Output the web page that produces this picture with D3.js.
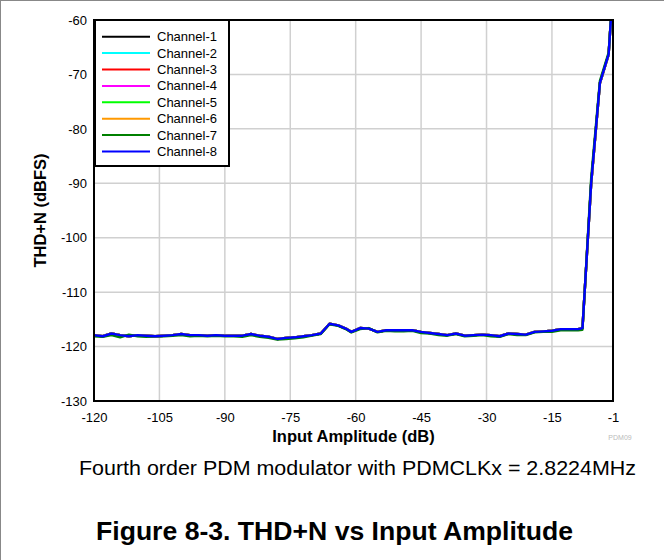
<!DOCTYPE html>
<html>
<head>
<meta charset="utf-8">
<script src="https://cdn.jsdelivr.net/npm/d3@7"></script>
<style>
html,body{margin:0;padding:0;background:#fff;}
svg{display:block;font-family:"Liberation Sans",Arial,Helvetica,sans-serif;}
</style>
</head>
<body>
<svg id="chart" width="664" height="560"></svg>
<script>
// ---- data ----
const channels = ["Channel-1","Channel-2","Channel-3","Channel-4","Channel-5","Channel-6","Channel-7","Channel-8"];
const channelColors = ["#000000","#00ffff","#ff0000","#ff00ff","#00ff00","#ff9900","#008000","#0000ff"];
const inputAmp = [-120,-118,-116,-114,-112,-110,-108,-106,-104,-102,-100,-98,-96,-94,-92,-90,-88,-86,-84,-82,-80,-78,-76,-74,-72,-70,-68,-66,-64,-62,-61,-59,-57,-55,-53,-51,-49,-47,-45,-43,-41,-39,-37,-35,-33,-31,-29,-27,-25,-23,-21,-19,-17,-15,-13,-11,-9,-8,-6,-4,-2,-1];
const thdBase = [-117.9,-118.1,-117.6,-117.9,-118.1,-117.9,-118.0,-118.1,-118.0,-117.9,-117.7,-117.9,-117.9,-118.0,-117.9,-118.0,-118.0,-118.0,-117.7,-118.0,-118.2,-118.6,-118.4,-118.3,-118.1,-117.9,-117.6,-115.8,-116.1,-116.8,-117.3,-116.6,-116.7,-117.3,-117.0,-117.0,-117.0,-117.0,-117.3,-117.5,-117.7,-117.9,-117.6,-118.0,-117.9,-117.8,-117.9,-118.1,-117.6,-117.7,-117.8,-117.3,-117.2,-117.1,-116.8,-116.8,-116.8,-116.6,-90.0,-71.6,-66.3,-54.0];
const thdCh7 = [-118.1,-118.2,-117.9,-118.3,-117.8,-118.1,-118.2,-118.1,-118.1,-118.0,-117.9,-118.1,-118.0,-118.1,-118.0,-118.1,-118.1,-118.2,-117.9,-118.2,-118.4,-118.7,-118.6,-118.5,-118.3,-118.0,-117.7,-115.9,-116.2,-116.9,-117.4,-116.8,-116.6,-117.4,-117.1,-117.2,-117.2,-117.1,-117.5,-117.6,-117.9,-118.0,-117.7,-118.1,-118.0,-117.9,-118.1,-118.2,-117.7,-117.9,-117.9,-117.4,-117.3,-117.3,-117.0,-117.0,-117.0,-116.9,-89.0,-71.2,-66.0,-54.0];
const channelValues = [thdBase,thdBase,thdBase,thdBase,thdBase,thdBase,thdCh7,thdBase];
const xTicks = [-120,-105,-90,-75,-60,-45,-30,-15,-1];
const yTicks = [-60,-70,-80,-90,-100,-110,-120,-130];

// ---- layout ----
const svg = d3.select("#chart");
const L = 94, R = 613, T = 20, B = 401;
const x = d3.scaleLinear().domain([-120,-1]).range([L,R]);
const y = d3.scaleLinear().domain([-130,-60]).range([B,T]);
const fmt = d => String(d);

// outer page border (left & top)
svg.append("line").attr("x1",0.5).attr("x2",0.5).attr("y1",0).attr("y2",560).attr("stroke","#888").attr("stroke-width",1);
svg.append("line").attr("x1",0).attr("x2",664).attr("y1",0.5).attr("y2",0.5).attr("stroke","#888").attr("stroke-width",1);

// gridlines
svg.append("g").selectAll("line").data(xTicks.slice(1,-1)).join("line")
  .attr("x1",d=>x(d)).attr("x2",d=>x(d)).attr("y1",T).attr("y2",B)
  .attr("stroke","#d0d0d0").attr("stroke-width",1.5);
svg.append("g").selectAll("line").data(yTicks.slice(1,-1)).join("line")
  .attr("x1",L).attr("x2",R).attr("y1",d=>y(d)).attr("y2",d=>y(d))
  .attr("stroke","#d0d0d0").attr("stroke-width",1.5);

// axes (labels only)
const yAxis = svg.append("g").attr("transform",`translate(${L},0)`)
  .call(d3.axisLeft(y).tickValues(yTicks).tickSize(0).tickPadding(7).tickFormat(fmt));
yAxis.select(".domain").remove();
yAxis.selectAll("text").attr("font-size",13).attr("fill","#000").attr("font-family","Liberation Sans, Arial, sans-serif");

const xAxis = svg.append("g").attr("transform",`translate(0,${B})`)
  .call(d3.axisBottom(x).tickValues(xTicks).tickSize(0).tickPadding(12).tickFormat(fmt));
xAxis.select(".domain").remove();
xAxis.selectAll("text").attr("font-size",13).attr("fill","#000").attr("font-family","Liberation Sans, Arial, sans-serif");

// clip
svg.append("defs").append("clipPath").attr("id","plotclip")
  .append("rect").attr("x",L).attr("y",T).attr("width",R-L).attr("height",B-T);

const line = d3.line().x((d,i)=>x(inputAmp[i])).y(d=>y(d));
svg.append("g").attr("clip-path","url(#plotclip)")
  .selectAll("path").data(channelValues).join("path")
  .attr("d",d=>line(d)).attr("fill","none")
  .attr("stroke",(d,i)=>channelColors[i]).attr("stroke-width",2.4)
  .attr("stroke-linejoin","round");

// frame
svg.append("rect").attr("x",L).attr("y",T).attr("width",R-L).attr("height",B-T)
  .attr("fill","none").attr("stroke","#000").attr("stroke-width",2);

// legend
const lg = svg.append("g");
lg.append("rect").attr("x",L+1).attr("y",T).attr("width",134).attr("height",146)
  .attr("fill","#fff").attr("stroke","#000").attr("stroke-width",2);
channels.forEach((c,i)=>{
  const yy = T + 16.7 + i*16.4;
  lg.append("line").attr("x1",102).attr("x2",150).attr("y1",yy).attr("y2",yy)
    .attr("stroke",channelColors[i]).attr("stroke-width",2);
  lg.append("text").attr("x",157).attr("y",yy).attr("dy","0.35em")
    .attr("font-size",13).text(c);
});

// axis titles
svg.append("text").attr("x",353.5).attr("y",442).attr("text-anchor","middle")
  .attr("font-size",16.5).attr("font-weight","bold").text("Input Amplitude (dB)");
svg.append("text").attr("transform",`translate(46,${(T+B)/2}) rotate(-90)`)
  .attr("text-anchor","middle").attr("font-size",16.5).attr("font-weight","bold").text("THD+N (dBFS)");

// small id tag
svg.append("text").attr("x",620).attr("y",440).attr("text-anchor","middle")
  .attr("font-size",7).attr("fill","#bbb").text("PDM09");

// captions
svg.append("text").attr("x",357.5).attr("y",475).attr("text-anchor","middle")
  .attr("font-size",20).attr("textLength",557).attr("lengthAdjust","spacingAndGlyphs")
  .text("Fourth order PDM modulator with PDMCLKx = 2.8224MHz");
svg.append("text").attr("x",334.5).attr("y",540).attr("text-anchor","middle")
  .attr("font-size",26).attr("font-weight","bold").attr("textLength",477).attr("lengthAdjust","spacingAndGlyphs")
  .text("Figure 8-3. THD+N vs Input Amplitude");
</script>
</body>
</html>
